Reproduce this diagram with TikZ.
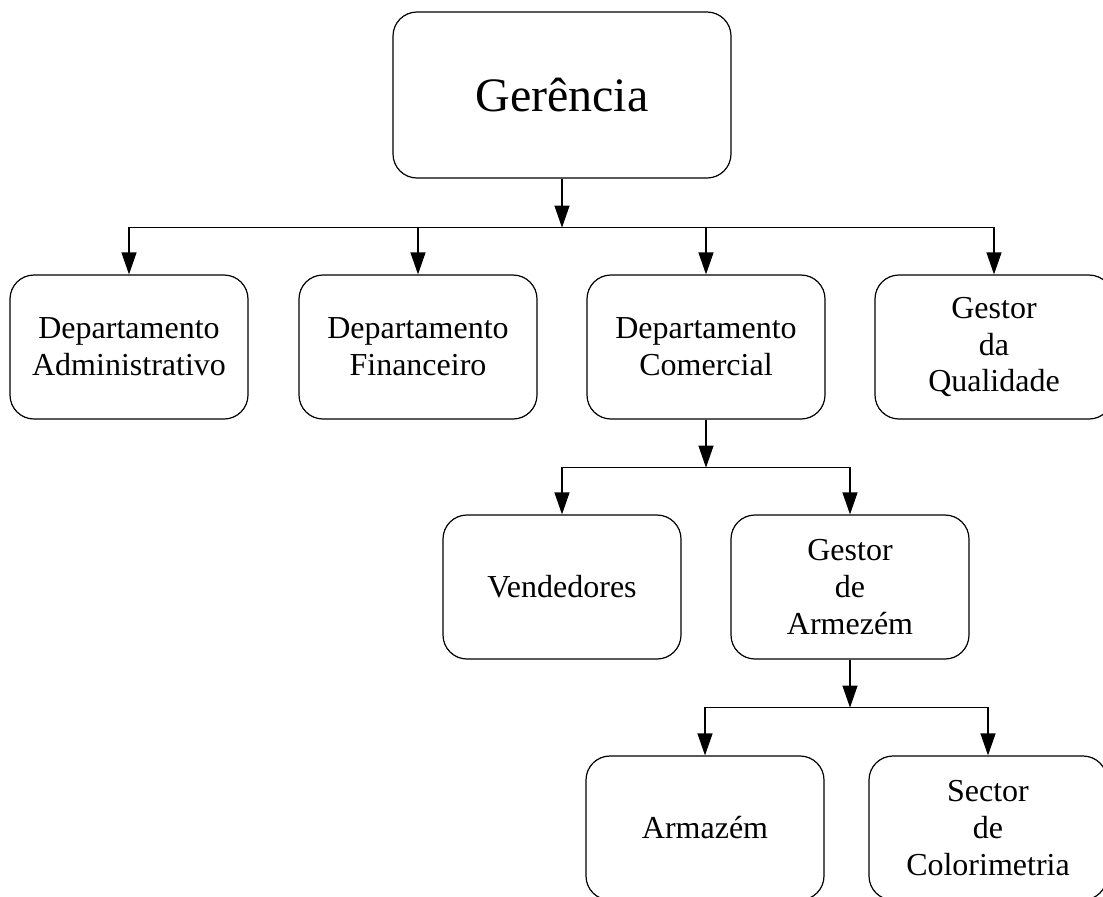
\documentclass[tikz,border=0pt]{standalone}
\usepackage{fontspec}
\setmainfont{Liberation Serif}
\usepackage{tikz}
\usetikzlibrary{arrows.meta, positioning}
\tikzstyle{oBox} = [rectangle, rounded corners=12pt, minimum width=119pt, minimum height=72pt, text centered, align=center, draw=black, line width=0.6pt, font=\fontsize{16}{18.4}\selectfont]
\tikzstyle{oTop} = [oBox, minimum width=169pt, minimum height=83pt, font=\fontsize{24}{28}\selectfont]
\tikzstyle{oArrow} = [line width=0.6pt, -{Triangle[length=11pt, width=7.5pt]}]

\begin{document}
\begin{tikzpicture}
    \useasboundingbox (0,0) rectangle (551.5pt,-448pt);

    \node (gerencia) [oTop] at (281pt,-47.5pt) {Gerência};

    \node (admin) [oBox, node distance=126pt, below of=gerencia, xshift=-216.5pt] {Departamento\\Administrativo};
    \node (financeiro) [oBox, node distance=126pt, below of=gerencia, xshift=-72pt] {Departamento\\Financeiro};
    \node (comercial) [oBox, node distance=126pt, below of=gerencia, xshift=72pt] {Departamento\\Comercial};
    \node (qualidade) [oBox, node distance=126pt, below of=gerencia, xshift=216pt] {Gestor\\da\\Qualidade};

    \node (vendedores) [oBox, node distance=120pt, below of=comercial, xshift=-72pt] {Vendedores};
    \node (gestorArm) [oBox, node distance=120pt, below of=comercial, xshift=72pt] {Gestor\\de\\Armezém};

    \node (armazem) [oBox, node distance=120.5pt, below of=gestorArm, xshift=-72.5pt] {Armazém};
    \node (colorimetria) [oBox, node distance=120.5pt, below of=gestorArm, xshift=69pt] {Sector\\de\\Colorimetria};

    \coordinate [below=24.5pt of gerencia.south] (busTop);
    \coordinate [below=24pt of comercial.south] (busCom);
    \coordinate [below=24pt of gestorArm.south] (busArm);

    \draw [oArrow] (gerencia) -- (busTop);
    \draw [oArrow] (busTop) -| (admin);
    \draw [oArrow] (busTop) -| (financeiro);
    \draw [oArrow] (busTop) -| (comercial);
    \draw [oArrow] (busTop) -| (qualidade);

    \draw [oArrow] (comercial) -- (busCom);
    \draw [oArrow] (busCom) -| (vendedores);
    \draw [oArrow] (busCom) -| (gestorArm);

    \draw [oArrow] (gestorArm) -- (busArm);
    \draw [oArrow] (busArm) -| (armazem);
    \draw [oArrow] (busArm) -| (colorimetria);
\end{tikzpicture}
\end{document}
